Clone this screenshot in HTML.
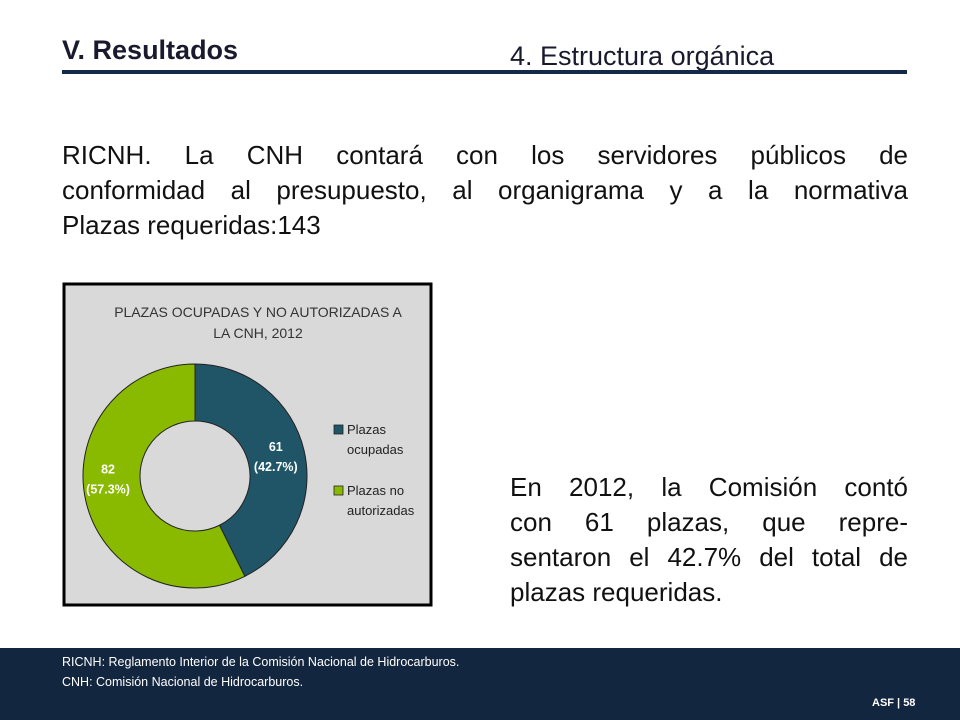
<!DOCTYPE html>
<html><head><meta charset="utf-8"><style>
body{margin:0;width:960px;height:720px;background:#fff;position:relative;overflow:hidden;font-family:"Liberation Sans",sans-serif;}
.abs{position:absolute;}
.j{text-align:justify;text-align-last:justify;white-space:nowrap;}
</style></head><body>
<div class="abs" style="left:62px;top:35px;font-size:27px;font-weight:bold;color:#1a1a2e;">V. Resultados</div>
<div class="abs" style="left:510px;top:41px;font-size:27px;color:#1a1a2e;">4. Estructura orgánica</div>
<div class="abs" style="left:62px;top:70px;width:845px;height:4px;background:#14284a;"></div>
<div class="abs" style="left:62px;top:138px;width:846px;font-size:26px;line-height:35px;color:#111;">
<div class="j">RICNH. La CNH contará con los servidores públicos de</div>
<div class="j">conformidad al presupuesto, al organigrama y a la normativa</div>
<div>Plazas requeridas:143</div>
</div>

<svg class="abs" style="left:62px;top:282px;" width="372" height="326">
<rect x="2" y="2" width="367" height="321" fill="#d9d9d9" stroke="#000" stroke-width="3"/>
<text x="196" y="35" text-anchor="middle" font-size="14" fill="#333">PLAZAS OCUPADAS Y NO AUTORIZADAS A</text>
<text x="196" y="56" text-anchor="middle" font-size="14" fill="#333">LA CNH, 2012</text>
<g id="slices"></g>
<rect x="272" y="143" width="9" height="9" fill="#1f5567" stroke="#222" stroke-width="0.8"/>
<text x="285" y="152" font-size="13" fill="#222">Plazas</text>
<text x="285" y="172" font-size="13" fill="#222">ocupadas</text>
<rect x="272" y="204" width="9" height="9" fill="#8aba00" stroke="#222" stroke-width="0.8"/>
<text x="285" y="213" font-size="13" fill="#222">Plazas no</text>
<text x="285" y="233" font-size="13" fill="#222">autorizadas</text>
</svg>

<div class="abs" style="left:510px;top:470px;width:398px;font-size:26px;line-height:35px;color:#111;">
<div class="j">En 2012, la Comisión contó</div>
<div class="j">con 61 plazas, que repre-</div>
<div class="j">sentaron el 42.7% del total de</div>
<div>plazas requeridas.</div>
</div>

<div class="abs" style="left:0;top:648px;width:960px;height:72px;background:#13263f;color:#fff;">
<div style="position:absolute;left:62px;top:7px;font-size:12.5px;">RICNH: Reglamento Interior de la Comisión Nacional de Hidrocarburos.</div>
<div style="position:absolute;left:62px;top:27px;font-size:12.5px;">CNH: Comisión Nacional de Hidrocarburos.</div>
<div style="position:absolute;left:872px;top:49px;font-size:11px;font-weight:bold;">ASF | 58</div>
</div>

<script>
const categories=["Plazas ocupadas","Plazas no autorizadas"];
const values=[61,82];
const labels=["61","82"];
const colors=["#1f5567","#8aba00"];
const g=document.getElementById('slices');
const cx=133,cy=194,R=112,r=55;
const total=values.reduce((a,b)=>a+b,0);
let a0=-Math.PI/2;
const ns="http://www.w3.org/2000/svg";
values.forEach((v,i)=>{
 const a1=a0+v/total*2*Math.PI;
 const large=(a1-a0)>Math.PI?1:0;
 const p=(a,rad)=>[cx+rad*Math.cos(a),cy+rad*Math.sin(a)];
 const [x0,y0]=p(a0,R),[x1,y1]=p(a1,R),[x2,y2]=p(a1,r),[x3,y3]=p(a0,r);
 const path=document.createElementNS(ns,'path');
 path.setAttribute('d',`M${x0},${y0}A${R},${R} 0 ${large} 1 ${x1},${y1}L${x2},${y2}A${r},${r} 0 ${large} 0 ${x3},${y3}Z`);
 path.setAttribute('fill',colors[i]);path.setAttribute('stroke','#222');path.setAttribute('stroke-width','1');
 
 
 g.appendChild(path);
 const am=(a0+a1)/2+(i===0?0:0.19);
 const [lx,ly]=p(am,(i===0?83:87));
 const pct=(v/total*100).toFixed(1);
 [labels[i],'('+pct+'%)'].forEach((s,k)=>{
  const t=document.createElementNS(ns,'text');
  t.setAttribute('x',lx);t.setAttribute('y',ly-6+k*20);
  t.setAttribute('text-anchor','middle');t.setAttribute('font-size','12.5');
  t.setAttribute('font-weight','bold');t.setAttribute('fill','#fff');
  t.textContent=s;
  
  
  g.appendChild(t);
 });
 a0=a1;
});
</script>
</body></html>
